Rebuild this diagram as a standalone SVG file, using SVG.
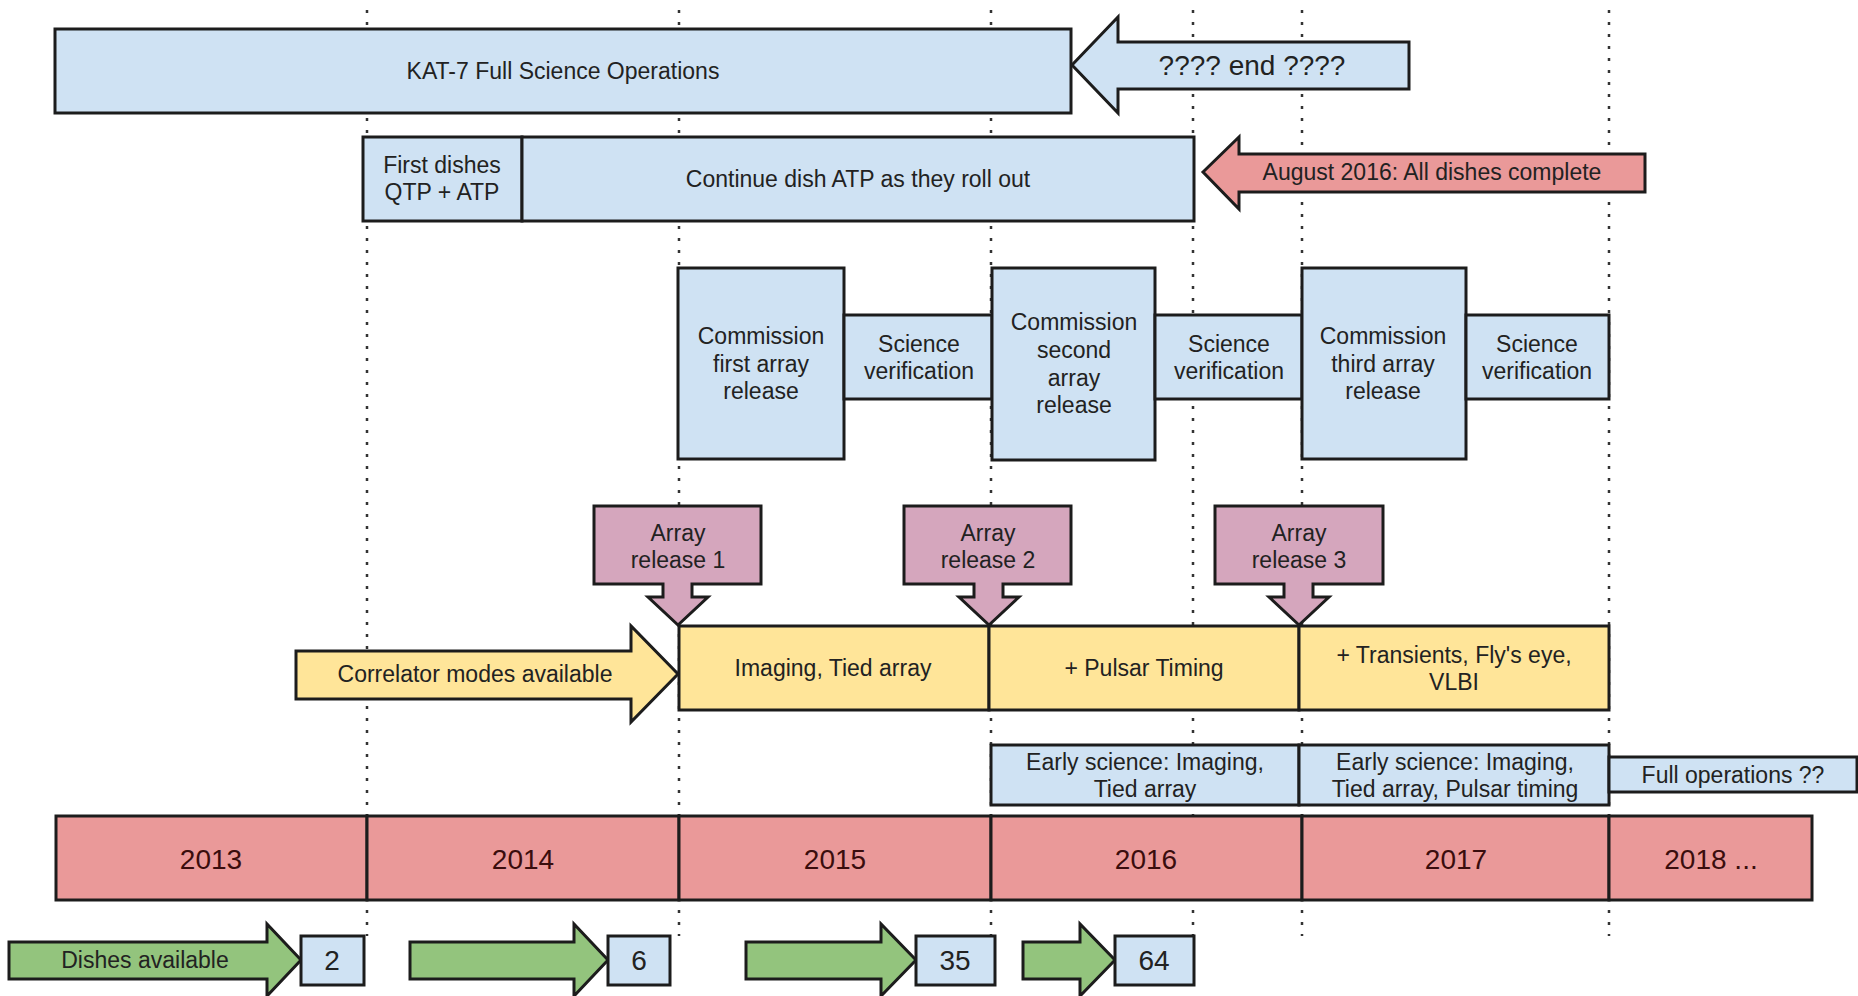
<svg xmlns="http://www.w3.org/2000/svg" width="1858" height="996" viewBox="0 0 1858 996">
<style>
.s{stroke:#1c1c1c;stroke-width:3;stroke-linejoin:miter}
.d{stroke:#1c1c1c;stroke-width:2.5}
.blue{fill:#cfe2f3}.red{fill:#ea9999}.yellow{fill:#ffe599}.pink{fill:#d5a6bd}.green{fill:#93c47d}
text{font-family:"Liberation Sans",Arial,sans-serif;font-size:23px;fill:#222;text-anchor:middle;dominant-baseline:central}
.big{font-size:28px}
.yr{font-size:28px;fill:#3a0d0d}
.grid{stroke:#333;stroke-width:2.5;stroke-dasharray:3 9;fill:none}
</style>
<rect width="1858" height="996" fill="#ffffff"/>
<g id="guides">
<line class="grid" x1="367" y1="10" x2="367" y2="936"/>
<line class="grid" x1="679" y1="10" x2="679" y2="936"/>
<line class="grid" x1="991" y1="10" x2="991" y2="936"/>
<line class="grid" x1="1193" y1="10" x2="1193" y2="936"/>
<line class="grid" x1="1302" y1="10" x2="1302" y2="936"/>
<line class="grid" x1="1609" y1="10" x2="1609" y2="936"/>
</g>
<g id="kat7">
<rect class="s blue" x="55" y="29" width="1016" height="84"/>
<text x="563" y="71">KAT-7 Full Science Operations</text>
</g>
<g id="kat7-end">
<polygon class="s blue" points="1072,65 1118,17 1118,42 1409,42 1409,89 1118,89 1118,113"/>
<text class="big" x="1252" y="65">???? end ????</text>
</g>
<g id="first-dishes">
<rect class="s blue" x="363" y="137" width="159" height="84"/>
<text x="442" y="165">First dishes</text>
<text x="442" y="192">QTP + ATP</text>
</g>
<g id="continue-atp">
<rect class="s blue" x="522" y="137" width="672" height="84"/>
<text x="858" y="179">Continue dish ATP as they roll out</text>
</g>
<g id="dishes-complete">
<polygon class="s red" points="1203,172 1239,137 1239,154 1645,154 1645,192 1239,192 1239,209"/>
<text x="1432" y="172">August 2016: All dishes complete</text>
</g>
<g id="commission-1">
<rect class="s blue" x="678" y="268" width="166" height="191"/>
<text x="761" y="336">Commission</text>
<text x="761" y="364">first array</text>
<text x="761" y="391">release</text>
</g>
<g id="sv-1">
<rect class="s blue" x="844" y="315" width="148" height="84"/>
<text x="919" y="344">Science</text>
<text x="919" y="371">verification</text>
</g>
<g id="commission-2">
<rect class="s blue" x="992" y="268" width="163" height="192"/>
<text x="1074" y="322">Commission</text>
<text x="1074" y="350">second</text>
<text x="1074" y="378">array</text>
<text x="1074" y="405">release</text>
</g>
<g id="sv-2">
<rect class="s blue" x="1155" y="315" width="147" height="84"/>
<text x="1229" y="344">Science</text>
<text x="1229" y="371">verification</text>
</g>
<g id="commission-3">
<rect class="s blue" x="1302" y="268" width="164" height="191"/>
<text x="1383" y="336">Commission</text>
<text x="1383" y="364">third array</text>
<text x="1383" y="391">release</text>
</g>
<g id="sv-3">
<rect class="s blue" x="1466" y="315" width="143" height="84"/>
<text x="1537" y="344">Science</text>
<text x="1537" y="371">verification</text>
</g>
<g id="array-release-1">
<polygon class="s pink" points="594,506 761,506 761,584 692,584 692,597 708,597 678,625 648,597 663,597 663,584 594,584"/>
<text x="678" y="533">Array</text>
<text x="678" y="560">release 1</text>
</g>
<g id="array-release-2">
<polygon class="s pink" points="904,506 1071,506 1071,584 1003,584 1003,597 1019,597 989,625 959,597 974,597 974,584 904,584"/>
<text x="988" y="533">Array</text>
<text x="988" y="560">release 2</text>
</g>
<g id="array-release-3">
<polygon class="s pink" points="1215,506 1383,506 1383,584 1313,584 1313,597 1329,597 1299,625 1269,597 1284,597 1284,584 1215,584"/>
<text x="1299" y="533">Array</text>
<text x="1299" y="560">release 3</text>
</g>
<g id="correlator">
<polygon class="s yellow" points="296,651 631,651 631,626 678,674 631,722 631,699 296,699"/>
<text x="475" y="674">Correlator modes available</text>
</g>
<g id="mode-1">
<rect class="s yellow" x="679" y="626" width="310" height="84"/>
<text x="833" y="668">Imaging, Tied array</text>
</g>
<g id="mode-2">
<rect class="s yellow" x="989" y="626" width="310" height="84"/>
<text x="1144" y="668">+ Pulsar Timing</text>
</g>
<g id="mode-3">
<rect class="s yellow" x="1299" y="626" width="310" height="84"/>
<text x="1454" y="655">+ Transients, Fly's eye,</text>
<text x="1454" y="682">VLBI</text>
</g>
<g id="early-1">
<rect class="s blue" x="991" y="745" width="308" height="60"/>
<text x="1145" y="762">Early science: Imaging,</text>
<text x="1145" y="789">Tied array</text>
</g>
<g id="early-2">
<rect class="s blue" x="1299" y="745" width="310" height="60"/>
<text x="1455" y="762">Early science: Imaging,</text>
<text x="1455" y="789">Tied array, Pulsar timing</text>
</g>
<g id="full-ops">
<rect class="s blue" x="1609" y="757" width="248" height="35"/>
<text x="1733" y="775">Full operations ??</text>
</g>
<g id="years">
<rect class="s red" x="56" y="816" width="311" height="84"/>
<rect class="s red" x="367" y="816" width="312" height="84"/>
<rect class="s red" x="679" y="816" width="312" height="84"/>
<rect class="s red" x="991" y="816" width="311" height="84"/>
<rect class="s red" x="1302" y="816" width="307" height="84"/>
<rect class="s red" x="1609" y="816" width="203" height="84"/>
<text class="yr" x="211" y="859">2013</text>
<text class="yr" x="523" y="859">2014</text>
<text class="yr" x="835" y="859">2015</text>
<text class="yr" x="1146" y="859">2016</text>
<text class="yr" x="1456" y="859">2017</text>
<text class="yr" x="1711" y="859">2018 ...</text>
</g>
<g id="dishes-2">
<polygon class="s green" points="9,942 267,942 267,924 301,960 267,996 267,979 9,979"/>
<text x="145" y="960">Dishes available</text>
<rect class="s blue" x="301" y="936" width="63" height="49"/>
<text class="big" x="332" y="960">2</text>
</g>
<g id="dishes-6">
<polygon class="s green" points="410,942 574,942 574,924 608,960 574,996 574,979 410,979"/>
<rect class="s blue" x="608" y="936" width="62" height="49"/>
<text class="big" x="639" y="960">6</text>
</g>
<g id="dishes-35">
<polygon class="s green" points="746,942 881,942 881,924 916,960 881,996 881,979 746,979"/>
<rect class="s blue" x="916" y="936" width="79" height="49"/>
<text class="big" x="955" y="960">35</text>
</g>
<g id="dishes-64">
<polygon class="s green" points="1023,942 1080,942 1080,924 1115,960 1080,996 1080,979 1023,979"/>
<rect class="s blue" x="1115" y="936" width="79" height="49"/>
<text class="big" x="1154" y="960">64</text>
</g>
</svg>
